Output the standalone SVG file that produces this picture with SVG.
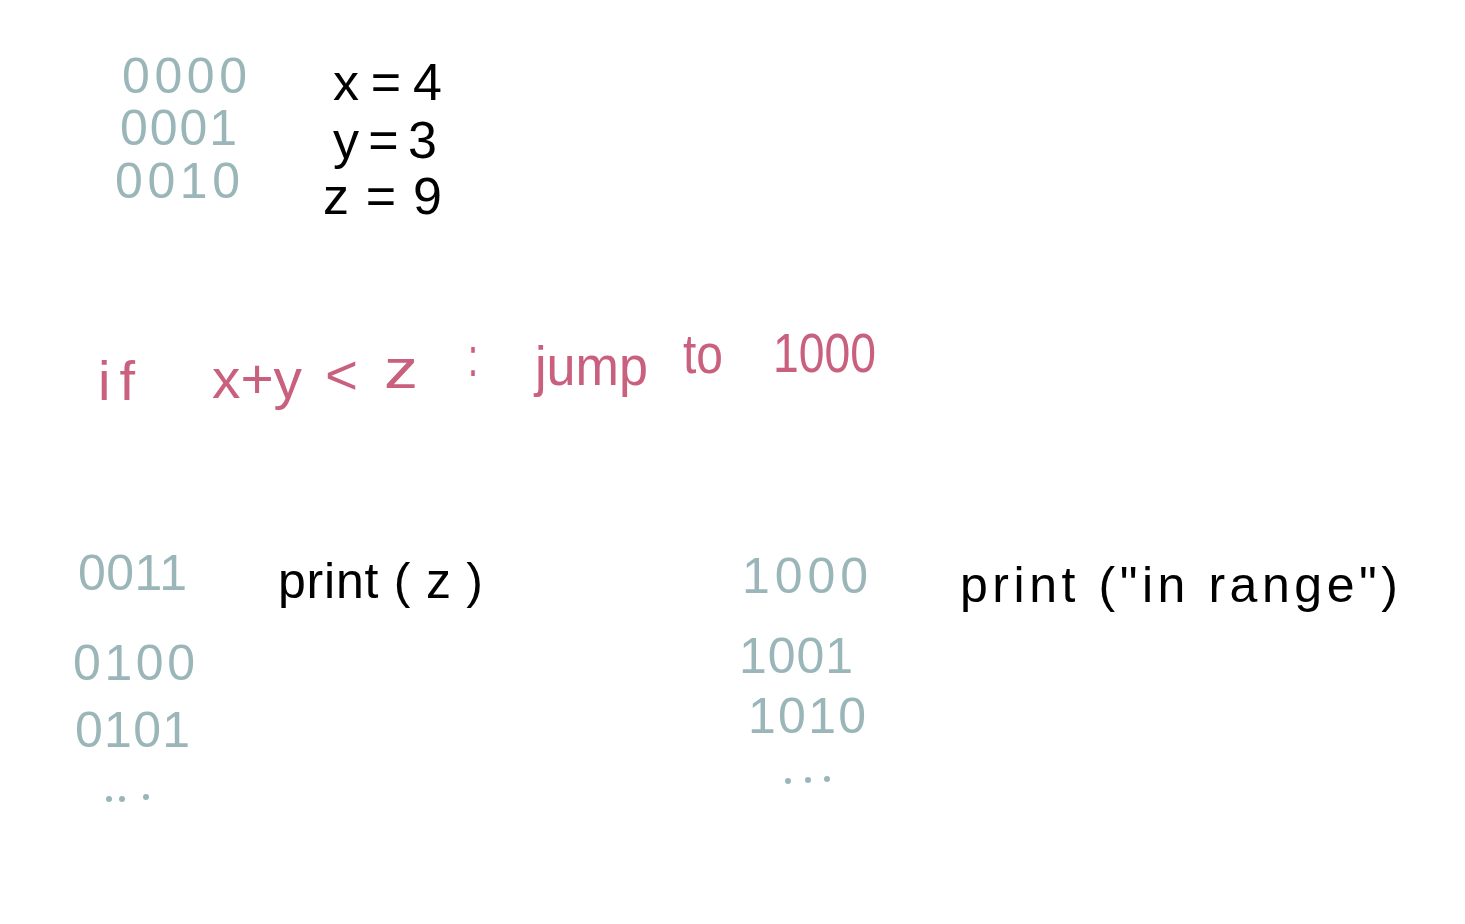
<svg xmlns="http://www.w3.org/2000/svg" width="1465" height="924" viewBox="0 0 1465 924">
<style>
.bin{font-family:"Liberation Sans",Arial,sans-serif;font-size:50px;fill:#9bb6b9}
.blk{font-family:"Liberation Sans",Arial,sans-serif;font-size:52px;fill:#000}
.code{font-family:"Liberation Sans",Arial,sans-serif;font-size:50px;fill:#000}
.pink{font-family:"Liberation Sans",Arial,sans-serif;font-size:56px;fill:#c8607e}
.dot{fill:#9bb6b9}
</style>
<rect width="1465" height="924" fill="#fff"/>
<g id="memory-top">
<text class="bin" x="122" y="93" textLength="125" lengthAdjust="spacing">0000</text>
<text class="bin" x="120" y="145" textLength="117" lengthAdjust="spacing">0001</text>
<text class="bin" x="115" y="198" textLength="125" lengthAdjust="spacing">0010</text>
</g>
<g id="variables">
<text class="blk" x="333" y="100" textLength="109" lengthAdjust="spacing">x=4</text>
<text class="blk" x="333" y="158" textLength="104" lengthAdjust="spacing">y=3</text>
<text class="blk" x="323" y="214" textLength="119" lengthAdjust="spacing">z = 9</text>
</g>
<g id="condition">
<text class="pink" x="98" y="400" textLength="37" lengthAdjust="spacing">if</text>
<text class="pink" x="212" y="398" textLength="90" lengthAdjust="spacingAndGlyphs">x+y</text>
<text class="pink" x="325" y="394" textLength="33" lengthAdjust="spacingAndGlyphs">&lt;</text>
<text class="pink" x="384" y="388" textLength="34" lengthAdjust="spacingAndGlyphs">z</text>
<text class="pink" x="468" y="376" textLength="10" lengthAdjust="spacingAndGlyphs">:</text>
<text class="pink" x="535" y="385" textLength="113" lengthAdjust="spacingAndGlyphs">jump</text>
<text class="pink" x="683" y="373" textLength="40" lengthAdjust="spacingAndGlyphs">to</text>
<text class="pink" x="773" y="372" textLength="103" lengthAdjust="spacingAndGlyphs">1000</text>
</g>
<g id="memory-left">
<text class="bin" x="78" y="590" textLength="109" lengthAdjust="spacing">0011</text>
<text class="bin" x="73" y="680" textLength="122" lengthAdjust="spacing">0100</text>
<text class="bin" x="75" y="747" textLength="115" lengthAdjust="spacing">0101</text>
<circle class="dot" cx="109" cy="799" r="3"/>
<circle class="dot" cx="122" cy="799" r="3"/>
<circle class="dot" cx="146" cy="797" r="3"/>
</g>
<g id="print-z">
<text class="code" x="278" y="598" textLength="205" lengthAdjust="spacing">print ( z )</text>
</g>
<g id="memory-right">
<text class="bin" x="742" y="593" textLength="126" lengthAdjust="spacing">1000</text>
<text class="bin" x="739" y="673" textLength="114" lengthAdjust="spacing">1001</text>
<text class="bin" x="748" y="733" textLength="118" lengthAdjust="spacing">1010</text>
<circle class="dot" cx="788" cy="781" r="3"/>
<circle class="dot" cx="808" cy="780" r="3"/>
<circle class="dot" cx="827" cy="779" r="3"/>
</g>
<g id="print-range">
<text class="code" x="960" y="602" textLength="438" lengthAdjust="spacing">print ("in  range")</text>
</g>
</svg>
